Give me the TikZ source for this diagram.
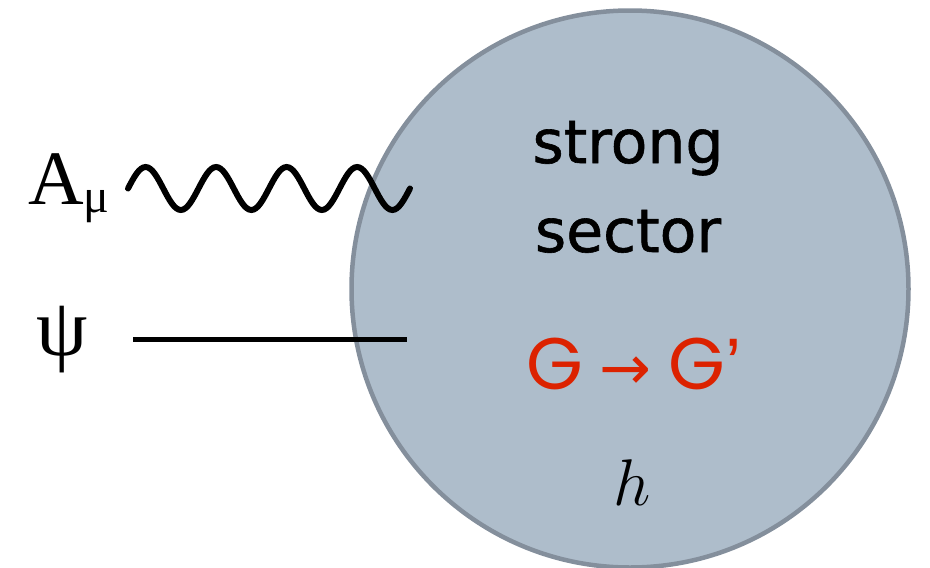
\documentclass[tikz,border=0pt]{standalone}
\usepackage{fix-cm}
\usepackage{fontspec}
\newfontfamily\comicf[FakeBold=1]{DejaVu Sans}
\newfontfamily\arrowf{DejaVu Sans}
\newfontfamily\geof{Poppins}
\newfontfamily\quotef{Liberation Sans}
\newfontfamily\serf{Liberation Serif}
\definecolor{sectorfill}{HTML}{AEBDCB}
\definecolor{sectoredge}{HTML}{848F9C}
\definecolor{symred}{HTML}{DC2200}
\tikzset{
  sectorlabel/.style={font=\comicf\fontsize{60}{64}\selectfont, anchor=base, inner sep=0pt},
  fieldlabel/.style={anchor=base, inner sep=0pt},
  wavy/.style={line width=6pt, line cap=round},
  fermion/.style={line width=5pt},
}
\begin{document}
\begin{tikzpicture}[x=1pt,y=-1pt]
\useasboundingbox (0,0) rectangle (930,568);
\node[circle, draw=sectoredge, fill=sectorfill, line width=4.5pt, minimum size=557pt, inner sep=0pt] (sector) at (630,289) {};
\node[sectorlabel] (strong) at (628,163) {strong};
\node[sectorlabel] (sectorword) at (628,252) {sector};
\node[anchor=base, inner sep=0pt, text=symred, font=\geof\fontsize{73}{78}\selectfont] (gg) at (634,389) {G\hspace{-3pt} {\arrowf\fontsize{62}{62}\selectfont →}\hspace{-3pt} G{\quotef’}};
\node[anchor=base, inner sep=0pt, font=\fontsize{66}{70}\selectfont] (h) at (632,505) {$h$};
\node[fieldlabel, font=\serf\fontsize{77}{80}\selectfont] (A) at (56,204) {A};
\node[fieldlabel, font=\serf\fontsize{48}{50}\selectfont] (mu) at (96,212) {μ};
\node[fieldlabel, font=\serf\fontsize{82}{86}\selectfont] (psi) at (62,355) {ψ};
\coordinate (wA) at (128,188.5);
\coordinate (wB) at (410,188.5);
\coordinate (fA) at (133,339);
\coordinate (fB) at (407,339);
\draw[wavy] (wA)
  sin ++(17.625,-21.5) cos ++(17.625,21.5) sin ++(17.625,21.5) cos ++(17.625,-21.5)
  sin ++(17.625,-21.5) cos ++(17.625,21.5) sin ++(17.625,21.5) cos ++(17.625,-21.5)
  sin ++(17.625,-21.5) cos ++(17.625,21.5) sin ++(17.625,21.5) cos ++(17.625,-21.5)
  sin ++(17.625,-21.5) cos ++(17.625,21.5) sin ++(17.625,21.5) cos (wB);
\draw[fermion] (fA) -- (fB);
\end{tikzpicture}
\end{document}
